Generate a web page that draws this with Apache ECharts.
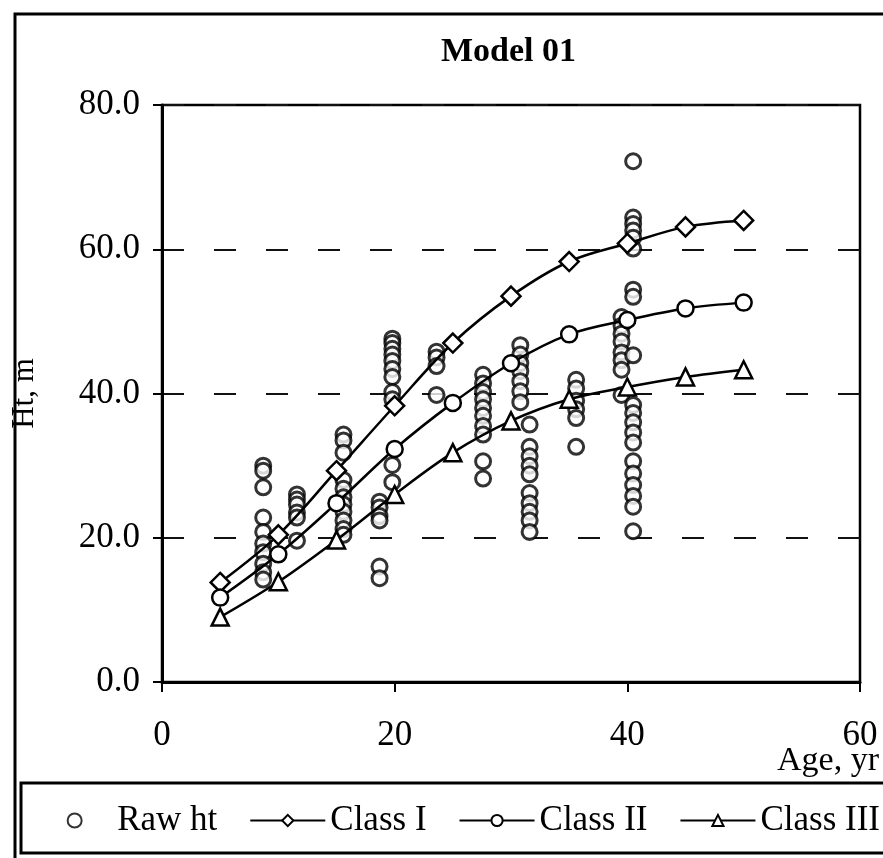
<!DOCTYPE html>
<html>
<head>
<meta charset="utf-8">
<script src="https://cdn.jsdelivr.net/npm/echarts@6/dist/echarts.min.js"></script>
<style>
  html, body { margin: 0; padding: 0; background: #fff; }
  #chart { width: 883px; height: 858px; }
</style>
</head>
<body>
<div id="chart"></div>
<script>
// model curves, age classes
const ages = [5, 10, 15, 20, 25, 30, 35, 40, 45, 50]
const class1 = [13.8, 20.4, 29.3, 38.3, 47.0, 53.5, 58.3, 60.8, 63.1, 64.0]
const class2 = [11.7, 17.7, 24.8, 32.3, 38.7, 44.2, 48.2, 50.2, 51.8, 52.6]
const class3 = [9.0, 13.9, 19.7, 26.0, 31.8, 36.2, 39.2, 40.9, 42.3, 43.3]

// raw heights, grouped by plot age
const rawAges = [8.7, 11.6, 15.6, 18.7, 19.8, 23.6, 27.6, 30.8, 31.6, 35.6, 39.5, 40.5]
const rawHts = [
  [30.0, 29.3, 27.0, 22.8, 20.8, 19.2, 18.0, 16.4, 15.2, 14.2],
  [26.0, 25.3, 24.6, 23.5, 22.8, 19.6],
  [34.3, 33.5, 31.8, 28.0, 26.8, 25.6, 24.6, 23.6, 22.4, 21.2, 20.4],
  [25.0, 24.2, 23.0, 22.4, 16.0, 14.4],
  [47.6, 47.0, 46.2, 45.4, 44.5, 43.4, 42.3, 40.2, 39.2, 30.1, 27.7],
  [45.8, 45.0, 43.8, 39.8],
  [42.6, 41.4, 40.2, 39.2, 38.0, 36.9, 35.5, 34.3, 30.6, 28.2],
  [46.7, 45.4, 44.2, 43.1, 41.7, 40.3, 38.8],
  [35.7, 32.6, 31.3, 30.0, 28.8, 26.2, 24.8, 23.6, 22.4, 20.8],
  [41.9, 40.7, 39.0, 37.8, 36.6, 32.6],
  [50.6, 49.4, 48.3, 47.2, 45.7, 44.6, 43.3, 39.8],
  [72.2, 64.4, 63.5, 62.6, 61.6, 60.1, 54.4, 53.4, 45.3, 38.4, 37.3, 36.0, 34.6, 33.2, 30.6, 28.9, 27.3, 25.8, 24.3, 20.9]
]

const yTicks = [0, 20, 40, 60, 80]
const xTicks = [0, 20, 40, 60]

const font = "'Liberation Serif', 'Times New Roman', serif"

const rawData = []
rawAges.forEach((a, i) => {
  rawHts[i].forEach(h => rawData.push([a, h]))
})

const pair = vals => ages.map((a, i) => [a, vals[i]])

const lineSeries = (name, vals, symbol, size) => ({
  name: name,
  type: 'line',
  data: pair(vals),
  smooth: 0.35,
  symbol: symbol,
  symbolSize: size,
  z: 3,
  lineStyle: { color: '#000', width: 2.5 },
  itemStyle: { color: '#fff', borderColor: '#000', borderWidth: 2.5 }
})

const chart = echarts.init(document.getElementById('chart'))
chart.setOption({
  animation: false,
  backgroundColor: '#fff',
  textStyle: { fontFamily: font, color: '#000' },
  title: {
    text: 'Model 01',
    left: 436,
    top: 30,
    textStyle: { fontFamily: font, fontSize: 34, fontWeight: 'bold', color: '#000' }
  },
  graphic: [
    {
      type: 'rect', z: -1,
      shape: { x: 15, y: 14, width: 1000, height: 1000 },
      style: { fill: 'none', stroke: '#000', lineWidth: 3 }
    },
    {
      type: 'rect', z: 0,
      shape: { x: 21, y: 783, width: 1000, height: 70 },
      style: { fill: '#fff', stroke: '#000', lineWidth: 3 }
    },
    {
      type: 'text', z: 5,
      right: 4, top: 744,
      style: { text: 'Age, yr', font: '34px ' + font, fill: '#000' }
    }
  ],
  legend: {
    right: 3,
    top: 803,
    padding: 0,
    itemWidth: 75,
    itemHeight: 14,
    itemGap: 32,
    z: 5,
    textStyle: { fontFamily: font, fontSize: 35, color: '#000' },
    data: ['Raw ht', 'Class I', 'Class II', 'Class III']
  },
  grid: {
    left: 162, right: 23, top: 105, bottom: 176,
    show: true, borderColor: '#000', borderWidth: 2.5
  },
  xAxis: {
    type: 'value',
    min: xTicks[0], max: xTicks[xTicks.length - 1], interval: 20,
    axisLine: { lineStyle: { color: '#000', width: 3 } },
    axisTick: { length: 10, lineStyle: { color: '#000', width: 2 } },
    axisLabel: { fontFamily: font, fontSize: 35, color: '#000', margin: 36 },
    splitLine: { show: false }
  },
  yAxis: {
    type: 'value',
    name: 'Ht, m',
    nameLocation: 'middle',
    nameGap: 122,
    nameTextStyle: { fontFamily: font, fontSize: 31, color: '#000' },
    min: yTicks[0], max: yTicks[yTicks.length - 1], interval: 20,
    axisLine: { show: true, lineStyle: { color: '#000', width: 3 } },
    axisTick: { show: true, length: 9, lineStyle: { color: '#000', width: 2 } },
    axisLabel: { fontFamily: font, fontSize: 35, color: '#000', margin: 22, formatter: v => v.toFixed(1) },
    splitLine: { show: true, lineStyle: { color: '#111', width: 2, type: [22, 30] } }
  },
  series: [
    {
      name: 'Raw ht',
      type: 'scatter',
      data: rawData,
      symbol: 'circle',
      symbolSize: 15,
      z: 2,
      itemStyle: { color: '#fff', borderColor: '#000', borderWidth: 3 }
    },
    lineSeries('Class I', class1, 'diamond', 19),
    lineSeries('Class II', class2, 'circle', 16),
    lineSeries('Class III', class3, 'triangle', 17)
  ]
})
</script>
</body>
</html>
